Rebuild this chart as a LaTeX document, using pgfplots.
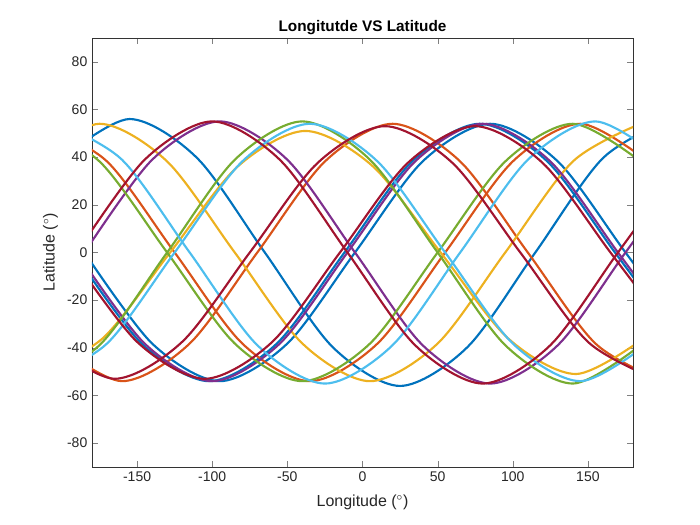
\documentclass[border=0pt]{standalone}
\usepackage{pgfplots}
\pgfplotsset{compat=1.18}
\usepackage{fontspec}
\setmainfont{Liberation Sans}
\definecolor{c1}{rgb}{0,0.447,0.741}
\definecolor{c2}{rgb}{0.85,0.325,0.098}
\definecolor{c3}{rgb}{0.929,0.694,0.125}
\definecolor{c4}{rgb}{0.494,0.184,0.556}
\definecolor{c5}{rgb}{0.466,0.674,0.188}
\definecolor{c6}{rgb}{0.301,0.745,0.933}
\definecolor{c7}{rgb}{0.635,0.078,0.184}
\begin{document}
\begin{tikzpicture}
\begin{axis}[name=ax,scale only axis,width=405.75pt,height=321.75pt,
xmin=-180,xmax=180,ymin=-90,ymax=90,
xtick={-150,-100,-50,0,50,100,150},ytick={-80,-60,-40,-20,0,20,40,60,80},
tick align=inside,tick pos=both,axis line style={black!80},
/pgf/number format/assume math mode=true,
ticklabel style={font=\fontsize{10.5}{12}\selectfont,text=black!85},
xlabel={Longitude ($^\circ$)},ylabel={Latitude ($^\circ$)},
label style={font=\fontsize{12}{14}\selectfont,text=black!85},
xlabel style={yshift=-3pt},
title={\textbf{Longitutde VS Latitude}},title style={font=\fontsize{11.5}{13}\selectfont,yshift=-7pt},
every axis plot/.append style={line width=1.6pt,smooth,no marks}]
% blue
\addplot[c1] coordinates {(-200,39.6)(-155,56)(-110,39.6)(-65,0)(-20,-39.6)(25,-56)(70,-39.6)(115,0)(160,39.6)(205,56)};
\addplot[c1] coordinates {(-192,0)(-147,-38.2)(-102,-54)(-57,-38.2)(-12,0)(33,38.2)(78,54)(123,38.2)(168,0)(213,-38.2)};
\addplot[c1] coordinates {(-185,0)(-140,-38.2)(-95,-54)(-50,-38.2)(-5,0)(40,38.2)(85,54)(130,38.2)(175,0)(220,-38.2)};
% orange
\addplot[c2] coordinates {(-215,54)(-170,38.2)(-125,0)(-80,-38.2)(-35,-54)(10,-38.2)(55,0)(100,38.2)(145,54)(190,38.2)};
\addplot[c2] coordinates {(-205,-38.2)(-160,-54)(-115,-38.2)(-70,0)(-25,38.2)(20,54)(65,38.2)(110,0)(155,-38.2)(200,-54)};
% yellow
\addplot[c3] coordinates {(-220,38.2)(-175,54)(-130,38.2)(-85,0)(-40,-38.2)(5,-54)(50,-38.2)(95,0)(140,38.2)(185,54)};
\addplot[c3] coordinates {(-218,-51)(-173,-36.1)(-128,0)(-83,36.1)(-38,51)(7,36.1)(52,0)(97,-36.1)(142,-51)(187,-36.1)};
% purple
\addplot[c4] coordinates {(-185,0)(-140,38.9)(-95,55)(-50,38.9)(-5,0)(40,-38.9)(85,-55)(130,-38.9)(175,0)(220,38.9)};
\addplot[c4] coordinates {(-190,0)(-145,-38.2)(-100,-54)(-55,-38.2)(-10,0)(35,38.2)(80,54)(125,38.2)(170,0)(215,-38.2)};
% green
\addplot[c5] coordinates {(-220,-55)(-175,-38.9)(-130,0)(-85,38.9)(-40,55)(5,38.9)(50,0)(95,-38.9)(140,-55)(185,-38.9)};
\addplot[c5] coordinates {(-220,54)(-175,38.2)(-130,0)(-85,-38.2)(-40,-54)(5,-38.2)(50,0)(95,38.2)(140,54)(185,38.2)};
% light blue
\addplot[c6] coordinates {(-205,55)(-160,38.9)(-115,0)(-70,-38.9)(-25,-55)(20,-38.9)(65,0)(110,38.9)(155,55)(200,38.9)};
\addplot[c6] coordinates {(-215,-54)(-170,-38.2)(-125,0)(-80,38.2)(-35,54)(10,38.2)(55,0)(100,-38.2)(145,-54)(190,-38.2)};
% dark red
\addplot[c7] coordinates {(-190,0)(-145,38.9)(-100,55)(-55,38.9)(-10,0)(35,-38.9)(80,-55)(125,-38.9)(170,0)(215,38.9)};
\addplot[c7] coordinates {(-210,-37.5)(-165,-53)(-120,-37.5)(-75,0)(-30,37.5)(15,53)(60,37.5)(105,0)(150,-37.5)(195,-53)};
\addplot[c7] coordinates {(-195,0)(-150,-37.5)(-105,-53)(-60,-37.5)(-15,0)(30,37.5)(75,53)(120,37.5)(165,0)(210,-37.5)};
\end{axis}
\path ([shift={(-69pt,-43.5pt)}]ax.south west) rectangle ([shift={(50.25pt,28.5pt)}]ax.north east);
\end{tikzpicture}
\end{document}
